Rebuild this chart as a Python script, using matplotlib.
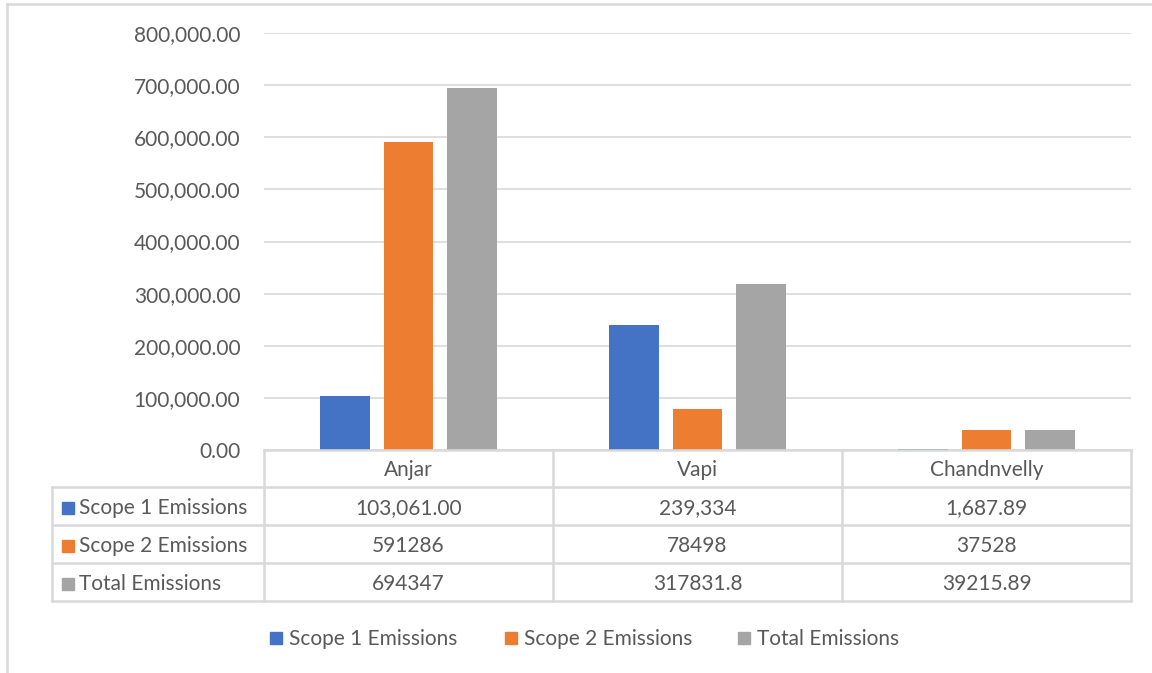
import matplotlib
matplotlib.use("Agg")

import matplotlib.pyplot as plt
import numpy as np

# plant-level emissions
sites = ["Anjar", "Vapi", "Chandnvelly"]
series = ["Scope 1 Emissions", "Scope 2 Emissions", "Total Emissions"]
scope1 = [103061.00, 239334, 1687.89]
scope2 = [591286, 78498, 37528]
total = [694347, 317831.8, 39215.89]
colors = ["#4472c4", "#ed7d31", "#a5a5a5"]

# how each table cell is written out
scope1_fmt = ["{:,.2f}", "{:,.0f}", "{:,.2f}"]
scope2_fmt = ["{:.0f}", "{:.0f}", "{:.0f}"]
total_fmt = ["{:.0f}", "{:.1f}", "{:.2f}"]

yticks = np.arange(0, 800001, 100000)

W, H = 1152, 673
plt.rcParams["font.family"] = ["Lato", "DejaVu Sans"]
txt = "#595959"
grid = "#d9d9d9"
fs = 15

fig = plt.figure(figsize=(W / 100, H / 100), dpi=100)

def fx(x):
    return x / W

def fy(y):
    return 1 - y / H

# plot area
left, right, top, bottom = 264, 1131, 33, 450
ax = fig.add_axes([fx(left), fy(bottom), fx(right) - fx(left), fy(top) - fy(bottom)])

x = np.arange(len(sites))
width = 0.173
step = 0.221
all_vals = [scope1, scope2, total]
for i, (vals, c) in enumerate(zip(all_vals, colors)):
    ax.bar(x + (i - 1) * step, vals, width, color=c, zorder=3)

ax.set_xlim(-0.5, len(sites) - 0.5)
ax.set_ylim(0, 800000)
ax.set_yticks(yticks)
ax.set_yticklabels(["{:,.2f}".format(v) for v in yticks], color=txt, fontsize=fs)
ax.tick_params(axis="y", length=0, pad=17)
ax.set_xticks([])
ax.grid(axis="y", color=grid, lw=1.2, zorder=0)
for s in ax.spines.values():
    s.set_visible(False)

# data table below the bars
tleft = 52
cols = [left + (right - left) * k / 3 for k in range(4)]
rows = [450, 487, 525, 563, 601]
lc = dict(color=grid, lw=1.8, transform=fig.transFigure)

fig.add_artist(plt.Line2D([fx(left), fx(right)], [fy(rows[0])] * 2, **lc))
for r in rows[1:]:
    fig.add_artist(plt.Line2D([fx(tleft), fx(right)], [fy(r)] * 2, **lc))
fig.add_artist(plt.Line2D([fx(tleft)] * 2, [fy(rows[1]), fy(rows[-1])], **lc))
for cx in cols:
    fig.add_artist(plt.Line2D([fx(cx)] * 2, [fy(rows[0]), fy(rows[-1])], **lc))

for j, site in enumerate(sites):
    cx = (cols[j] + cols[j + 1]) / 2
    fig.text(fx(cx), fy((rows[0] + rows[1]) / 2 + 2), site, ha="center", va="center",
             color=txt, fontsize=fs)

fmts = [scope1_fmt, scope2_fmt, total_fmt]
for i, (name, vals, fm, c) in enumerate(zip(series, all_vals, fmts, colors)):
    cy = (rows[i + 1] + rows[i + 2]) / 2 + 2
    fig.add_artist(plt.Rectangle((fx(62), fy(cy + 6)), fx(12), 12 / H, color=c,
                                 transform=fig.transFigure))
    fig.text(fx(79), fy(cy), name, ha="left", va="center", color=txt, fontsize=fs)
    for j in range(len(sites)):
        cx = (cols[j] + cols[j + 1]) / 2
        fig.text(fx(cx), fy(cy), fm[j].format(vals[j]), ha="center", va="center",
                 color=txt, fontsize=fs)

# legend
leg_x = [270, 505, 738]
for lx, name, c in zip(leg_x, series, colors):
    fig.add_artist(plt.Rectangle((fx(lx), fy(644)), fx(12), 12 / H, color=c,
                                 transform=fig.transFigure))
    fig.text(fx(lx + 19), fy(639), name, ha="left", va="center", color=txt, fontsize=fs)

# chart border
fig.add_artist(plt.Line2D([fx(7), fx(W + 5)], [fy(4)] * 2, **lc))
fig.add_artist(plt.Line2D([fx(7)] * 2, [fy(4), fy(H + 5)], **lc))

fig.savefig("out.png", dpi=100)
